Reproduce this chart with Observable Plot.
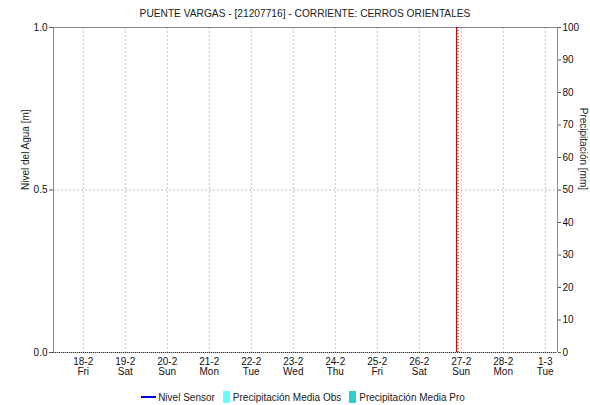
<!DOCTYPE html>
<html>
<head>
<meta charset="utf-8">
<script src="https://cdn.jsdelivr.net/npm/d3@7"></script>
<script src="https://cdn.jsdelivr.net/npm/@observablehq/plot@0.6"></script>
<style>
  body { margin: 0; background: #fff; font-family: "Liberation Sans", Arial, sans-serif; }
  #title { height: 20px; box-sizing: border-box; padding: 8px 33px 0 53px; text-align: center; font-size: 10.2px; color: #222; line-height: 12px; }
  #legend { display: flex; justify-content: center; align-items: center; font-size: 10px; color: #222; height: 18px; padding-left: 16px; padding-top: 2px; box-sizing: border-box; }
  .it { display: flex; align-items: center; margin: 0 4px; }
  .ln { width: 15px; height: 2px; margin-right: 2px; }
  .sq { width: 7px; height: 12px; margin-right: 3px; }
</style>
</head>
<body>
<div id="title"></div>
<div id="chart"></div>
<div id="legend"></div>
<script>
// ---- data ----
const chartTitle = "PUENTE VARGAS - [21207716] - CORRIENTE: CERROS ORIENTALES";
const yLabelLeft = "Nivel del Agua [m]";
const yLabelRight = "Precipitación [mm]";
const tickDates = ["2022-02-18","2022-02-19","2022-02-20","2022-02-21","2022-02-22","2022-02-23","2022-02-24","2022-02-25","2022-02-26","2022-02-27","2022-02-28","2022-03-01"];
const tickDayLabels = ["18-2","19-2","20-2","21-2","22-2","23-2","24-2","25-2","26-2","27-2","28-2","1-3"];
const tickWeekdays = ["Fri","Sat","Sun","Mon","Tue","Wed","Thu","Fri","Sat","Sun","Mon","Tue"];
const leftTicks = [0, 0.5, 1.0];
const rightTicks = [0, 10, 20, 30, 40, 50, 60, 70, 80, 90, 100];
const xStart = "2022-02-17T07:00Z";
const xEnd = "2022-03-01T07:00Z";
const nowMarker = "2022-02-26T21:20Z";
const refMarker = "2022-02-26T22:10Z";
const nivelSensor = []; // no readings in window
const precipObs = [];
const precipPro = [];
const legendItems = [
  {label: "Nivel Sensor", type: "line", color: "#0000dd"},
  {label: "Precipitación Media Obs", type: "box", color: "#66ffff"},
  {label: "Precipitación Media Pro", type: "box", color: "#33cccc"}
];

// ---- build ----
document.getElementById("title").textContent = chartTitle;
const dates = tickDates.map(s => new Date(s + "T00:00Z"));
const labelOf = new Map(dates.map((d, i) => [+d, tickDayLabels[i] + "\n" + tickWeekdays[i]]));
const x0 = new Date(xStart), x1 = new Date(xEnd);

const chart = Plot.plot({
  width: 590, height: 367,
  marginLeft: 53, marginRight: 33, marginTop: 7, marginBottom: 35,
  x: {type: "utc", domain: [x0, x1]},
  y: {domain: [0, 1]},
  style: {fontFamily: "'Liberation Sans', Arial, sans-serif", fontSize: "10px", color: "#111", background: "#fff"},
  marks: [
    Plot.ruleX(dates, {stroke: "#c4c4c4", strokeDasharray: "2,2"}),
    Plot.ruleY([0.5], {stroke: "#c4c4c4", strokeDasharray: "2,2"}),
    Plot.ruleY([1], {stroke: "#888"}),
    Plot.ruleX([x0, x1], {stroke: "#888"}),
    Plot.ruleY([0], {stroke: "#bbb"}),
    Plot.ruleY([0], {stroke: "#333", strokeDasharray: "1,1"}),
    Plot.rectY(precipObs, {x1: "start", x2: "end", y: d => d.value / 100, fill: "#66ffff"}),
    Plot.rectY(precipPro, {x1: "start", x2: "end", y: d => d.value / 100, fill: "#33cccc"}),
    Plot.line(nivelSensor, {x: "date", y: "value", stroke: "#0000cc"}),
    Plot.ruleX([new Date(nowMarker)], {stroke: "#e00000", strokeWidth: 1.2}),
    Plot.ruleX([new Date(refMarker)], {stroke: "#333", strokeDasharray: "1,2"}),
    Plot.axisX(dates, {anchor: "bottom", tickSize: 0, tickPadding: 5, lineHeight: 1.05, tickFormat: d => labelOf.get(+d), label: null}),
    Plot.axisY(leftTicks, {anchor: "left", tickSize: 4, tickPadding: 2, tickFormat: d => d.toFixed(1), label: null, stroke: "#555"}),
    Plot.axisY(rightTicks.map(v => v / 100), {anchor: "right", tickSize: 3, tickPadding: 2, tickFormat: d => String(Math.round(d * 100)), label: null, stroke: "#555"}),
    Plot.text([yLabelLeft], {frameAnchor: "left", dx: -28, rotate: -90, fontSize: 10, fill: "#222"}),
    Plot.text([yLabelRight], {frameAnchor: "right", dx: 26, rotate: 90, fontSize: 10, fill: "#222"})
  ]
});
document.getElementById("chart").appendChild(chart);

const lg = document.getElementById("legend");
for (const it of legendItems) {
  const el = document.createElement("span");
  el.className = "it";
  const sw = document.createElement("span");
  sw.className = it.type === "line" ? "ln" : "sq";
  sw.style.background = it.color;
  const tx = document.createElement("span");
  tx.textContent = it.label;
  el.appendChild(sw); el.appendChild(tx);
  lg.appendChild(el);
}
</script>
</body>
</html>
